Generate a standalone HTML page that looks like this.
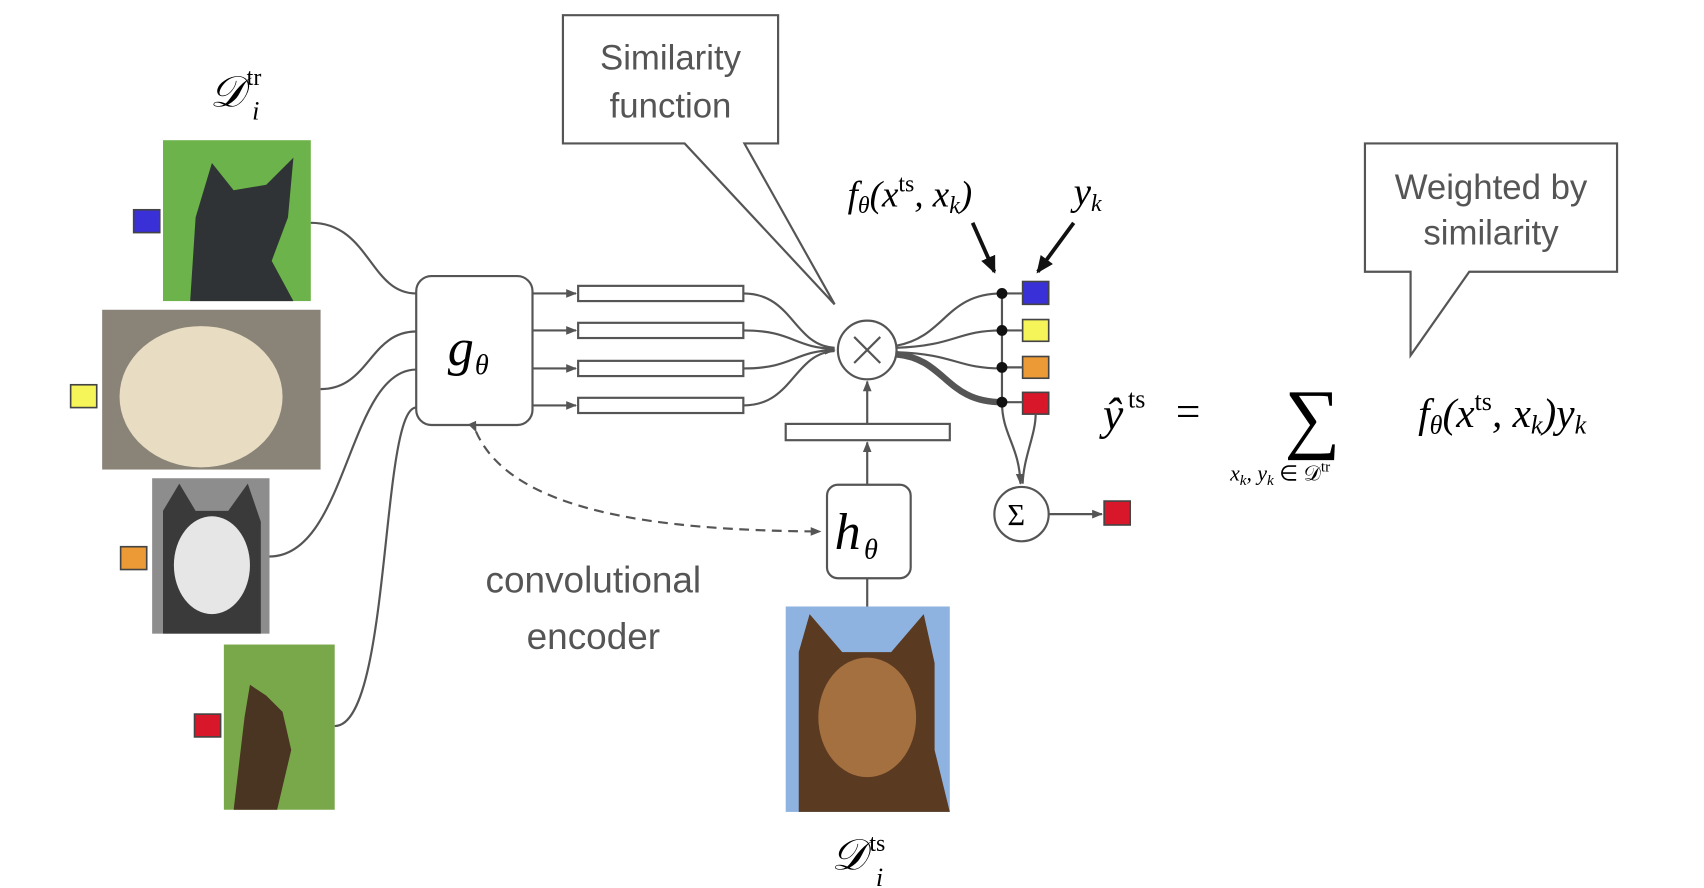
<!DOCTYPE html>
<html><head><style>html,body{margin:0;padding:0;background:#fff;width:1704px;height:888px;overflow:hidden}</style></head>
<body>
<svg width="1704" height="888" viewBox="0 0 1568 817" preserveAspectRatio="none" xmlns="http://www.w3.org/2000/svg" font-family="Liberation Serif, serif">
<defs>
<marker id="ah" markerWidth="10" markerHeight="10" refX="9" refY="5" orient="auto" markerUnits="userSpaceOnUse"><path d="M0,1 L10,5 L0,9 z" fill="#555"/></marker>
<marker id="bh" markerWidth="16" markerHeight="16" refX="14" refY="8" orient="auto" markerUnits="userSpaceOnUse"><path d="M0,1 L16,8 L0,15 z" fill="#111"/></marker>
</defs>
<rect width="1568" height="817" fill="#fff"/>
<text x="193" y="98" font-size="40" font-style="italic">𝒟</text>
<text x="227" y="78" font-size="22">tr</text>
<text x="232" y="110" font-size="24" font-style="italic">i</text>
<rect x="150" y="129" width="136" height="148" fill="#6bb34a"/>
<path d="M175,277 L180,200 L195,150 L215,175 L245,170 L270,145 L265,200 L250,240 L270,277 Z" fill="#2f3335"/>
<rect x="94" y="285" width="201" height="147" fill="#8a8478"/>
<ellipse cx="185" cy="365" rx="75" ry="65" fill="#e8dcc3"/>
<rect x="140" y="440" width="108" height="143" fill="#8d8d8d"/>
<path d="M150,583 L150,470 L165,445 L180,470 L210,470 L228,445 L240,480 L240,583 Z" fill="#3a3a3a"/>
<ellipse cx="195" cy="520" rx="35" ry="45" fill="#e6e6e6"/>
<rect x="206" y="593" width="102" height="152" fill="#79a84a"/>
<path d="M215,745 L225,660 L230,630 L245,640 L260,655 L268,690 L255,745 Z" fill="#4a3422"/>
<rect x="723" y="558" width="151" height="189" fill="#8fb3e0"/>
<path d="M735,747 L735,600 L745,565 L775,600 L820,600 L850,565 L860,610 L860,690 L874,747 Z" fill="#5a3a20"/>
<ellipse cx="798" cy="660" rx="45" ry="55" fill="#a57040"/>
<g stroke="#444" stroke-width="1.5">
<rect x="123" y="193" width="24" height="21" fill="#3a30d8"/>
<rect x="65" y="354" width="24" height="21" fill="#f5f55a"/>
<rect x="111" y="503" width="24" height="21" fill="#ec9a35"/>
<rect x="179" y="657" width="24" height="21" fill="#d8182a"/>
<rect x="941" y="259" width="24" height="21" fill="#3a30d8"/>
<rect x="941" y="294" width="24" height="20" fill="#f5f55a"/>
<rect x="941" y="328" width="24" height="20" fill="#ec9a35"/>
<rect x="941" y="361" width="24" height="20" fill="#d8182a"/>
<rect x="1016" y="461" width="24" height="22" fill="#d8182a"/>
</g>
<g fill="none" stroke="#555" stroke-width="2">
<path d="M286,205 C340,205 340,270 383,270"/>
<path d="M295,358 C340,358 340,305 383,305"/>
<path d="M248,512 C320,512 320,340 383,340"/>
<path d="M308,668 C360,668 350,375 383,375"/>
</g>
<rect x="383" y="254" width="107" height="137" rx="14" fill="#fff" stroke="#555" stroke-width="2"/>
<text x="412" y="336" font-size="48" font-style="italic">g</text><text x="437" y="344" font-size="26" font-style="italic">θ</text>
<g stroke="#555" stroke-width="2" fill="none">
<line x1="490" y1="270" x2="530" y2="270" marker-end="url(#ah)"/>
<line x1="490" y1="304" x2="530" y2="304" marker-end="url(#ah)"/>
<line x1="490" y1="339" x2="530" y2="339" marker-end="url(#ah)"/>
<line x1="490" y1="373" x2="530" y2="373" marker-end="url(#ah)"/>
<rect x="532" y="263" width="152" height="14"/>
<rect x="532" y="297" width="152" height="14"/>
<rect x="532" y="332" width="152" height="14"/>
<rect x="532" y="366" width="152" height="14"/>
<path d="M684,270 C730,270 730,318 768,320"/>
<path d="M684,304 C730,304 730,320 768,321"/>
<path d="M684,339 C730,339 730,323 768,322" marker-end="url(#ah)"/>
<path d="M684,373 C730,373 730,325 768,323"/>
<circle cx="798" cy="322" r="27" fill="#fff"/>
<path d="M786,310 L810,334 M810,310 L786,334"/>
<path d="M825,318 C870,310 870,270 922,270"/>
<path d="M825,320 C880,318 880,304 922,304"/>
<path d="M825,324 C880,326 880,339 922,339"/>
<path d="M825,326 C870,330 870,370 922,370" stroke-width="6"/>
<line x1="922" y1="270" x2="922" y2="370"/>
<line x1="922" y1="270" x2="941" y2="270"/><line x1="922" y1="304" x2="941" y2="304"/><line x1="922" y1="338" x2="941" y2="338"/><line x1="922" y1="370" x2="941" y2="370"/>
<path d="M922,370 C922,400 938,410 939,445" marker-end="url(#ah)"/>
<path d="M953,381 C953,400 942,420 941,445"/>
<circle cx="940" cy="473" r="25" fill="#fff"/>
<line x1="965" y1="473" x2="1014" y2="473" marker-end="url(#ah)"/>
<rect x="723" y="390" width="151" height="15"/>
<line x1="798" y1="390" x2="798" y2="351" marker-end="url(#ah)"/>
<line x1="798" y1="446" x2="798" y2="407" marker-end="url(#ah)"/>
<line x1="798" y1="558" x2="798" y2="532"/>
<path d="M438,397 C470,470 600,488 755,489" stroke-dasharray="9,6" marker-end="url(#ah)" marker-start="url(#ah)"/>
</g>
<g fill="#111"><circle cx="922" cy="270" r="5"/><circle cx="922" cy="304" r="5"/><circle cx="922" cy="338" r="5"/><circle cx="922" cy="370" r="5"/></g>
<text x="927" y="483" font-size="28">Σ</text>
<rect x="761" y="446" width="77" height="86" rx="10" fill="#fff" stroke="#555" stroke-width="2"/>
<text x="768" y="505" font-size="48" font-style="italic">h</text><text x="795" y="514" font-size="26" font-style="italic">θ</text>
<g stroke="#111" stroke-width="3.5"><line x1="895" y1="205" x2="915" y2="250" marker-end="url(#bh)"/><line x1="988" y1="205" x2="955" y2="250" marker-end="url(#bh)"/></g>
<text x="780" y="190" font-size="34" font-style="italic">f<tspan font-size="22" dy="6">θ</tspan><tspan dy="-6">(x</tspan><tspan font-size="22" font-style="normal" dy="-14">ts</tspan><tspan dy="14">, x</tspan><tspan font-size="22" dy="6">k</tspan><tspan dy="-6">)</tspan></text>
<text x="988" y="188" font-size="36" font-style="italic">y<tspan font-size="22" dy="6">k</tspan></text>
<text x="765" y="800" font-size="40" font-style="italic">𝒟</text>
<text x="800" y="783" font-size="22">ts</text>
<text x="806" y="815" font-size="24" font-style="italic">i</text>
<text x="546" y="545" font-size="34" font-family="Liberation Sans, sans-serif" fill="#555" text-anchor="middle">convolutional</text>
<text x="546" y="597" font-size="34" font-family="Liberation Sans, sans-serif" fill="#555" text-anchor="middle">encoder</text>
<g fill="#fff" stroke="#555" stroke-width="2">
<path d="M518,14 H716 V132 H685 L768,280 L630,132 H518 Z"/>
<path d="M1256,132 H1488 V250 H1352 L1298,327 L1298,250 H1256 Z"/>
</g>
<g font-family="Liberation Sans, sans-serif" font-size="32" fill="#555" text-anchor="middle">
<text x="617" y="64">Similarity</text><text x="617" y="108">function</text>
<text x="1372" y="183">Weighted by</text><text x="1372" y="225">similarity</text>
</g>
<text x="1015" y="395" font-size="42" font-style="italic">ŷ</text>
<text x="1038" y="375" font-size="24">ts</text>
<text x="1082" y="392" font-size="40">=</text>
<text x="1182" y="408" font-size="72">∑</text>
<text x="1132" y="442" font-size="20" font-style="italic">x<tspan font-size="14" dy="4">k</tspan><tspan dy="-4">, y</tspan><tspan font-size="14" dy="4">k</tspan><tspan dy="-4" font-style="normal"> ∈ 𝒟</tspan><tspan font-size="14" dy="-8" font-style="normal">tr</tspan></text>
<text x="1305" y="393" font-size="38" font-style="italic">f<tspan font-size="24" dy="6">θ</tspan><tspan dy="-6">(x</tspan><tspan font-size="24" font-style="normal" dy="-16">ts</tspan><tspan dy="16">, x</tspan><tspan font-size="24" dy="6">k</tspan><tspan dy="-6">)y</tspan><tspan font-size="24" dy="6">k</tspan></text>
</svg>
</body></html>
